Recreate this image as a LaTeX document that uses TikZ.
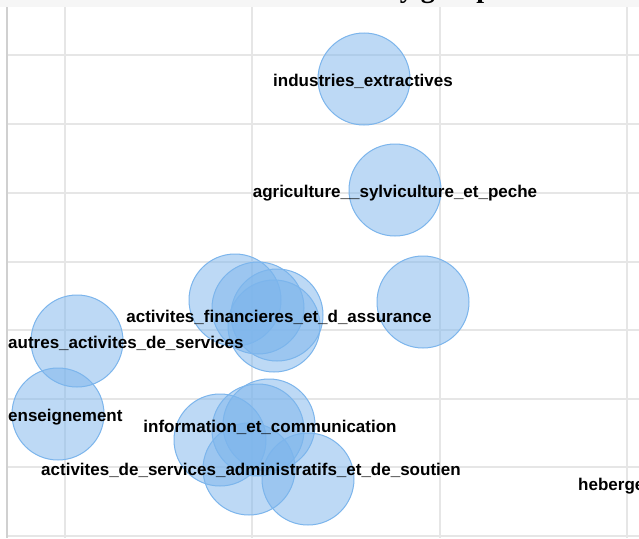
\documentclass[tikz,border=0pt]{standalone}
\usepackage{fontspec}
\setmainfont{Liberation Sans}
\newfontfamily\titlefont{Liberation Serif}
\usepackage{tikz}
\usetikzlibrary{positioning}
\definecolor{bubbleblue}{RGB}{124,181,236}
\definecolor{gridgray}{RGB}{230,230,230}
\definecolor{axisgray}{RGB}{208,208,208}
\definecolor{bandgray}{RGB}{246,246,246}

\begin{document}
\begin{tikzpicture}[
    x=1pt, y=-1pt,
    bubble/.style={circle, draw=bubbleblue, fill=bubbleblue, fill opacity=0.5, line width=1pt, minimum size=92pt, inner sep=0pt},
    tag/.style={font=\fontsize{17}{20}\selectfont\bfseries, text=black, inner sep=0pt, anchor=base},
    gridline/.style={draw=gridgray, line width=1.2pt}
]
    \useasboundingbox (0,0) rectangle (639,538);
    \fill[white] (0,0) rectangle (639,538);
    \fill[bandgray] (0,0) rectangle (639,7);
    \node[font=\titlefont\bfseries\fontsize{28}{30}\selectfont, inner sep=0pt, anchor=base west] (title) at (384,-2.5) {by group};

    % grid
    \foreach \gx in {65,252,440,627}
        \draw[gridline] (\gx,7) -- (\gx,538);
    \foreach \gy in {55,124,193,262,330,399,467,536}
        \draw[gridline] (7,\gy) -- (639,\gy);
    \draw[axisgray, line width=1.8pt] (7,7) -- (7,538);

    % bubbles
    \node[bubble] (ind) at (364,79) {};
    \node[bubble] (agr) at (395,190) {};
    \node[bubble] (right) at (423,302) {};
    \node[bubble] (fin1) at (235,300) {};
    \node[bubble] (fin2) at (258,308) {};
    \node[bubble] (fin3) at (277,315) {};
    \node[bubble] (fin4) at (274,326) {};
    \node[bubble] (aut) at (77,341) {};
    \node[bubble] (ens) at (58,414) {};
    \node[bubble] (inf1) at (220,440) {};
    \node[bubble] (inf2) at (258,430) {};
    \node[bubble] (inf3) at (269,425) {};
    \node[bubble] (adm1) at (249,469) {};
    \node[bubble] (adm2) at (308,479) {};

    % labels
    \node[tag] (l-ind) at (363,86) {industries\_extractives};
    \node[tag] (l-agr) at (395,197) {agriculture\_\_sylviculture\_et\_peche};
    \node[tag] (l-fin) at (279,322) {activites\_financieres\_et\_d\_assurance};
    \node[tag, anchor=base west] (l-aut) at (8,348) {autres\_activites\_de\_services};
    \node[tag, anchor=base west] (l-ens) at (8,421) {enseignement};
    \node[tag] (l-inf) at (270,432) {information\_et\_communication};
    \node[tag] (l-adm) at (251,475) {activites\_de\_services\_administratifs\_et\_de\_soutien};
    \node[tag, anchor=base west] (l-heb) at (578,490) {hebergement\_et\_restauration};
\end{tikzpicture}
\end{document}
